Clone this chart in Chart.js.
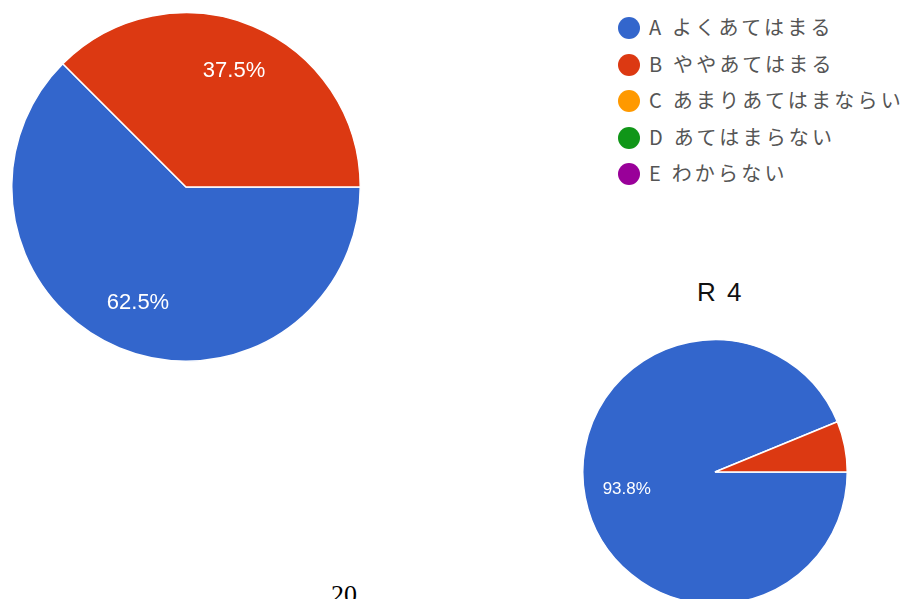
<!DOCTYPE html>
<html>
<head>
<meta charset="utf-8">
<script src="https://cdn.jsdelivr.net/npm/chart.js@4/dist/chart.umd.min.js"></script>
<style>
  html, body { margin: 0; padding: 0; background: #fff; overflow: hidden; }
  body { width: 914px; height: 599px; position: relative; }
  .pie { position: absolute; }
  #legend { position: absolute; left: 618px; top: 13px; margin: 0; padding: 0; list-style: none;
            font-family: "Noto Sans CJK JP", sans-serif; font-size: 20px; letter-spacing: 3.2px; color: #555; }
  #legend li { height: 36.6px; line-height: 28px; white-space: nowrap; }
  #legend i { display: inline-block; width: 22px; height: 22px; border-radius: 50%;
              vertical-align: -4px; margin-right: 9px; }
  #title { position: absolute; left: 697px; top: 277px; font-family: "Liberation Sans", Arial, sans-serif;
           font-size: 26px; letter-spacing: 2px; color: #111; }
  #page { position: absolute; left: 331px; top: 580px; font-family: "Liberation Serif", "DejaVu Serif", serif;
          font-size: 26px; color: #000; }
</style>
</head>
<body>
<canvas id="pieAll" class="pie" style="left:11px;top:12px;width:350px;height:350px"></canvas>
<canvas id="pieR4" class="pie" style="left:582px;top:339px;width:266px;height:266px"></canvas>
<ul id="legend"></ul>
<div id="title">R 4</div>
<div id="page">20</div>
<script>
var categories = ['A よくあてはまる', 'B ややあてはまる', 'C あまりあてはまならい', 'D あてはまらない', 'E わからない'];
var colors = ['#3366cc', '#dc3912', '#ff9900', '#109618', '#990099'];
var valuesAll = [62.5, 37.5, 0, 0, 0];
var valuesR4 = [93.8, 6.2, 0, 0, 0];

// percent text inside each slice, skipped when the slice is too thin
var sliceLabels = {
  id: 'sliceLabels',
  afterDatasetsDraw: function(chart, args, opts) {
    var ctx = chart.ctx;
    var data = chart.data.datasets[0].data;
    ctx.save();
    ctx.fillStyle = '#fff';
    ctx.font = opts.font;
    ctx.textAlign = 'center';
    ctx.textBaseline = 'middle';
    chart.getDatasetMeta(0).data.forEach(function(arc, i) {
      if (data[i] < 10) return;
      var p = arc.getProps(['x', 'y', 'startAngle', 'endAngle', 'outerRadius'], true);
      var mid = (p.startAngle + p.endAngle) / 2;
      var r = p.outerRadius * opts.dist;
      ctx.fillText(data[i].toFixed(1) + '%', p.x + Math.cos(mid) * r, p.y + Math.sin(mid) * r);
    });
    ctx.restore();
  }
};

function makePie(id, values, font, dist) {
  return new Chart(document.getElementById(id), {
    type: 'pie',
    data: {
      labels: categories,
      datasets: [{ data: values, backgroundColor: colors, borderColor: '#fff', borderWidth: 1.5 }]
    },
    options: {
      responsive: false,
      animation: false,
      events: [],
      rotation: 90,
      layout: { padding: 0 },
      plugins: {
        legend: { display: false },
        tooltip: { enabled: false },
        sliceLabels: { font: font, dist: dist }
      }
    },
    plugins: [sliceLabels]
  });
}

var c1 = document.getElementById('pieAll');
c1.width = 350; c1.height = 350;
var c2 = document.getElementById('pieR4');
c2.width = 266; c2.height = 266;

makePie('pieAll', valuesAll, '22px "Liberation Sans", Arial, sans-serif', 0.72);
makePie('pieR4', valuesR4, '17px "Liberation Sans", Arial, sans-serif', 0.68);

var legend = document.getElementById('legend');
categories.forEach(function(name, i) {
  var li = document.createElement('li');
  var dot = document.createElement('i');
  dot.style.background = colors[i];
  li.appendChild(dot);
  li.appendChild(document.createTextNode(name));
  legend.appendChild(li);
});
</script>
</body>
</html>
